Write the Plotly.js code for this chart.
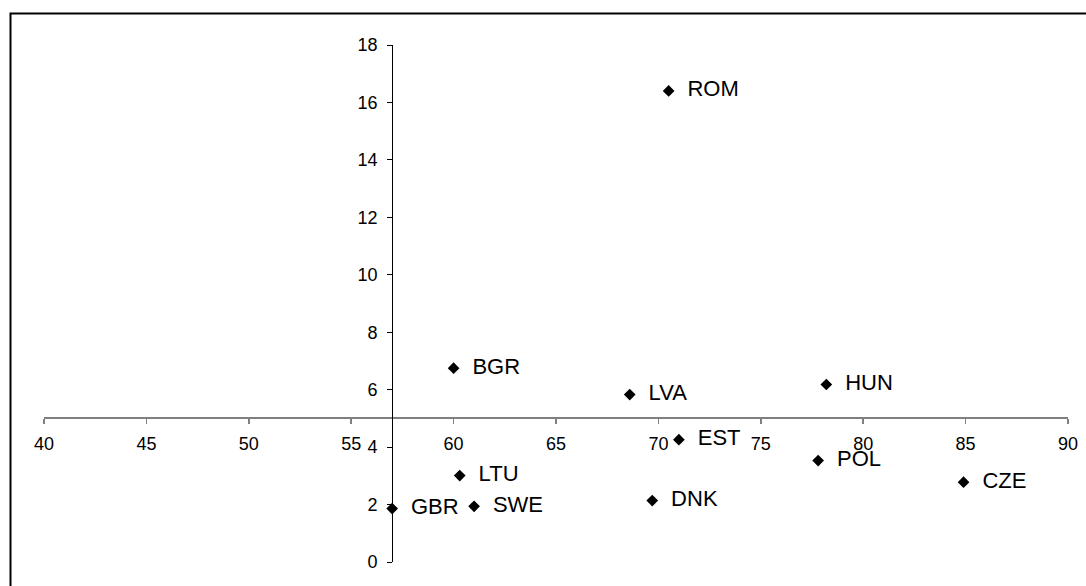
<!DOCTYPE html>
<html>
<head>
<meta charset="utf-8">
<script src="https://cdn.plot.ly/plotly-3.0.1.min.js"></script>
<style>
  html, body { margin: 0; padding: 0; background: #fff; }
  #chart { width: 1086px; height: 586px; }
</style>
</head>
<body>
<div id="chart"></div>
<script>
const countries = ["ROM", "BGR", "LVA", "HUN", "EST", "POL", "CZE", "LTU", "DNK", "SWE", "GBR"];
const xValues = [70.5, 60.0, 68.6, 78.2, 71.0, 77.8, 84.9, 60.3, 69.7, 61.0, 57.0];
const yValues = [16.4, 6.75, 5.83, 6.18, 4.26, 3.53, 2.78, 3.01, 2.14, 1.94, 1.86];
const xTicks = [40, 45, 50, 55, 60, 65, 70, 75, 80, 85, 90];
const yTicks = [0, 2, 4, 6, 8, 10, 12, 14, 16, 18];
const xCross = 57;   // where the y axis crosses the x axis
const yCross = 5;    // where the x axis crosses the y axis

const xRange = [40, 90];
const yRange = [0, 18];

const trace = {
  type: "scatter",
  mode: "markers+text",
  x: xValues,
  y: yValues,
  text: countries.map(c => "  " + c),
  textposition: "middle right",
  textfont: { family: "Liberation Sans, Arial, sans-serif", size: 22, color: "#000" },
  marker: { symbol: "diamond", size: 9, color: "#000" },
  cliponaxis: false,
  hoverinfo: "x+y+text"
};

const layout = {
  width: 1086,
  height: 586,
  margin: { l: 44, r: 18, t: 45, b: 24 },
  paper_bgcolor: "#fff",
  plot_bgcolor: "#fff",
  showlegend: false,
  font: { family: "Liberation Sans, Arial, sans-serif", color: "#000" },
  xaxis: {
    range: xRange,
    tickvals: xTicks,
    ticktext: xTicks.map(String),
    ticks: "outside",
    ticklen: 5,
    tickwidth: 1.5,
    tickcolor: "#808080",
    showline: true,
    linecolor: "#808080",
    linewidth: 2,
    showgrid: false,
    zeroline: false,
    anchor: "free",
    position: (yCross - yRange[0]) / (yRange[1] - yRange[0]),
    ticklabelstandoff: 4,
    tickfont: { size: 18, color: "#000" }
  },
  yaxis: {
    range: yRange,
    tickvals: yTicks,
    ticktext: yTicks.map(String),
    ticks: "outside",
    ticklen: 5,
    tickwidth: 1,
    tickcolor: "#000",
    showline: true,
    linecolor: "#000",
    linewidth: 1,
    showgrid: false,
    zeroline: false,
    anchor: "free",
    position: (xCross - xRange[0]) / (xRange[1] - xRange[0]),
    ticklabelstandoff: 6,
    tickfont: { size: 18, color: "#000" }
  },
  shapes: [{
    type: "rect",
    xref: "paper",
    yref: "paper",
    x0: (10.5 - 44) / 1024,
    x1: 1.2,
    y0: -0.2,
    y1: 1 + (45 - 13.5) / 517,
    line: { color: "#000", width: 2 },
    fillcolor: "rgba(0,0,0,0)",
    layer: "below"
  }]
};

Plotly.newPlot("chart", [trace], layout, { staticPlot: true, displayModeBar: false });
</script>
</body>
</html>
